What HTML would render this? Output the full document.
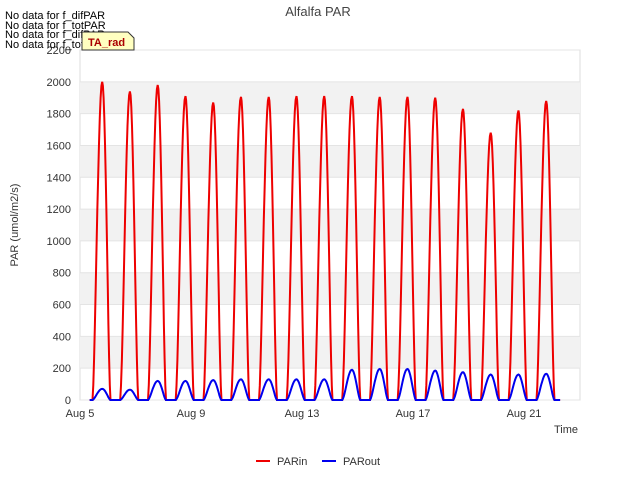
<!DOCTYPE html>
<html><head><meta charset="utf-8"><style>
body{margin:0;background:#fff;font-family:"Liberation Sans",sans-serif}
svg{display:block}
text{font-family:"Liberation Sans",sans-serif}
</style></head><body>
<svg id="chart" width="640" height="480">
<text x="318" y="16" text-anchor="middle" font-size="13" fill="#444">Alfalfa PAR</text>
<rect x="80" y="50" width="500" height="350" fill="#fff" stroke="#ddd"/>
<g id="bands"></g>
<g id="yaxis"></g>
<g id="xaxis"></g>
<text x="18" y="225" transform="rotate(-90 18 225)" text-anchor="middle" font-size="11" fill="#333">PAR (umol/m2/s)</text>
<text x="578" y="433" text-anchor="end" font-size="11" fill="#333">Time</text>
<g id="series"></g>
<g>
<line x1="256" y1="461" x2="270" y2="461" stroke="#e00" stroke-width="2"/>
<text x="277" y="465" font-size="11" fill="#333">PARin</text>
<line x1="322" y1="461" x2="336" y2="461" stroke="#00e" stroke-width="2"/>
<text x="343" y="465" font-size="11" fill="#333">PARout</text>
</g>
<g font-size="11" fill="#000">
<text x="5" y="19">No data for f_difPAR</text>
<text x="5" y="29">No data for f_totPAR</text>
<text x="5" y="38">No data for f_difPAR</text>
<text x="5" y="48">No data for f_totPAR</text>
</g>
<path d="M82 32 H128 L134 38 V50 H82 Z" fill="#ffffc0" stroke="#333"/>
<text x="88" y="46" font-size="11" fill="#a00" font-weight="bold">TA_rad</text>
</svg>
<script>
const days=[5,6,7,8,9,10,11,12,13,14,15,16,17,18,19,20,21];
const parinPeaks=[2000,1940,1980,1910,1870,1905,1905,1910,1910,1910,1905,1905,1900,1830,1680,1820,1880];
const paroutPeaks=[70,65,120,120,125,130,130,130,130,190,195,195,185,175,160,160,165];
const yTicks=[0,200,400,600,800,1000,1200,1400,1600,1800,2000,2200];
const xTickDays=[5,9,13,17,21];
const xTickLabels=["Aug 5","Aug 9","Aug 13","Aug 17","Aug 21"];
const NS="http://www.w3.org/2000/svg";
const X=d=>80+(d-5)*27.75;
const Y=v=>400-v*350/2200;
function mk(tag,attrs,parent){const e=document.createElementNS(NS,tag);for(const k in attrs)e.setAttribute(k,attrs[k]);parent.appendChild(e);return e;}
const bands=document.getElementById('bands'),ya=document.getElementById('yaxis'),xa=document.getElementById('xaxis'),ser=document.getElementById('series');
for(let i=1;i<yTicks.length-1;i+=2){
 const r=mk('rect',{x:80,y:Y(yTicks[i+1]),width:500,height:Y(yTicks[i])-Y(yTicks[i+1]),fill:'#f2f2f2'},bands);
 
 
}
yTicks.forEach(v=>{
 const l=mk('line',{x1:80,x2:580,y1:Y(v),y2:Y(v),stroke:'#e4e4e4'},ya);
 
 
 const t=mk('text',{x:71,y:Y(v)+4,'text-anchor':'end','font-size':11,fill:'#333'},ya);
 t.textContent=v;
 
 
});
xTickDays.forEach((d,i)=>{
 const t=mk('text',{x:X(d),y:417,'text-anchor':'middle','font-size':11,fill:'#333'},xa);
 t.textContent=xTickLabels[i];
 
 
});
function series(peaks,color,name){
 let pts=[[X(5.35),Y(0)]];
 days.forEach((d,i)=>{
  const s=d+0.45,p=d+0.8,e=d+1.1;
  pts.push([X(s),Y(0)]);
  for(let k=1;k<=12;k++){const f=k/12;pts.push([X(s+(p-s)*f),Y(peaks[i]*Math.pow(Math.sin(Math.PI/2*f),1.5))]);}
  for(let k=11;k>=0;k--){const f=k/12;pts.push([X(e-(e-p)*f),Y(peaks[i]*Math.pow(Math.sin(Math.PI/2*f),1.5))]);}
 });
 pts.push([X(22.3),Y(0)]);
 const pl=mk('polyline',{points:pts.map(p=>p[0].toFixed(1)+','+p[1].toFixed(1)).join(' '),fill:'none',stroke:color,'stroke-width':2},ser);
 
 
}
series(parinPeaks,'#e00','parin-line');
series(paroutPeaks,'#00e','parout-line');
</script>
</body></html>
